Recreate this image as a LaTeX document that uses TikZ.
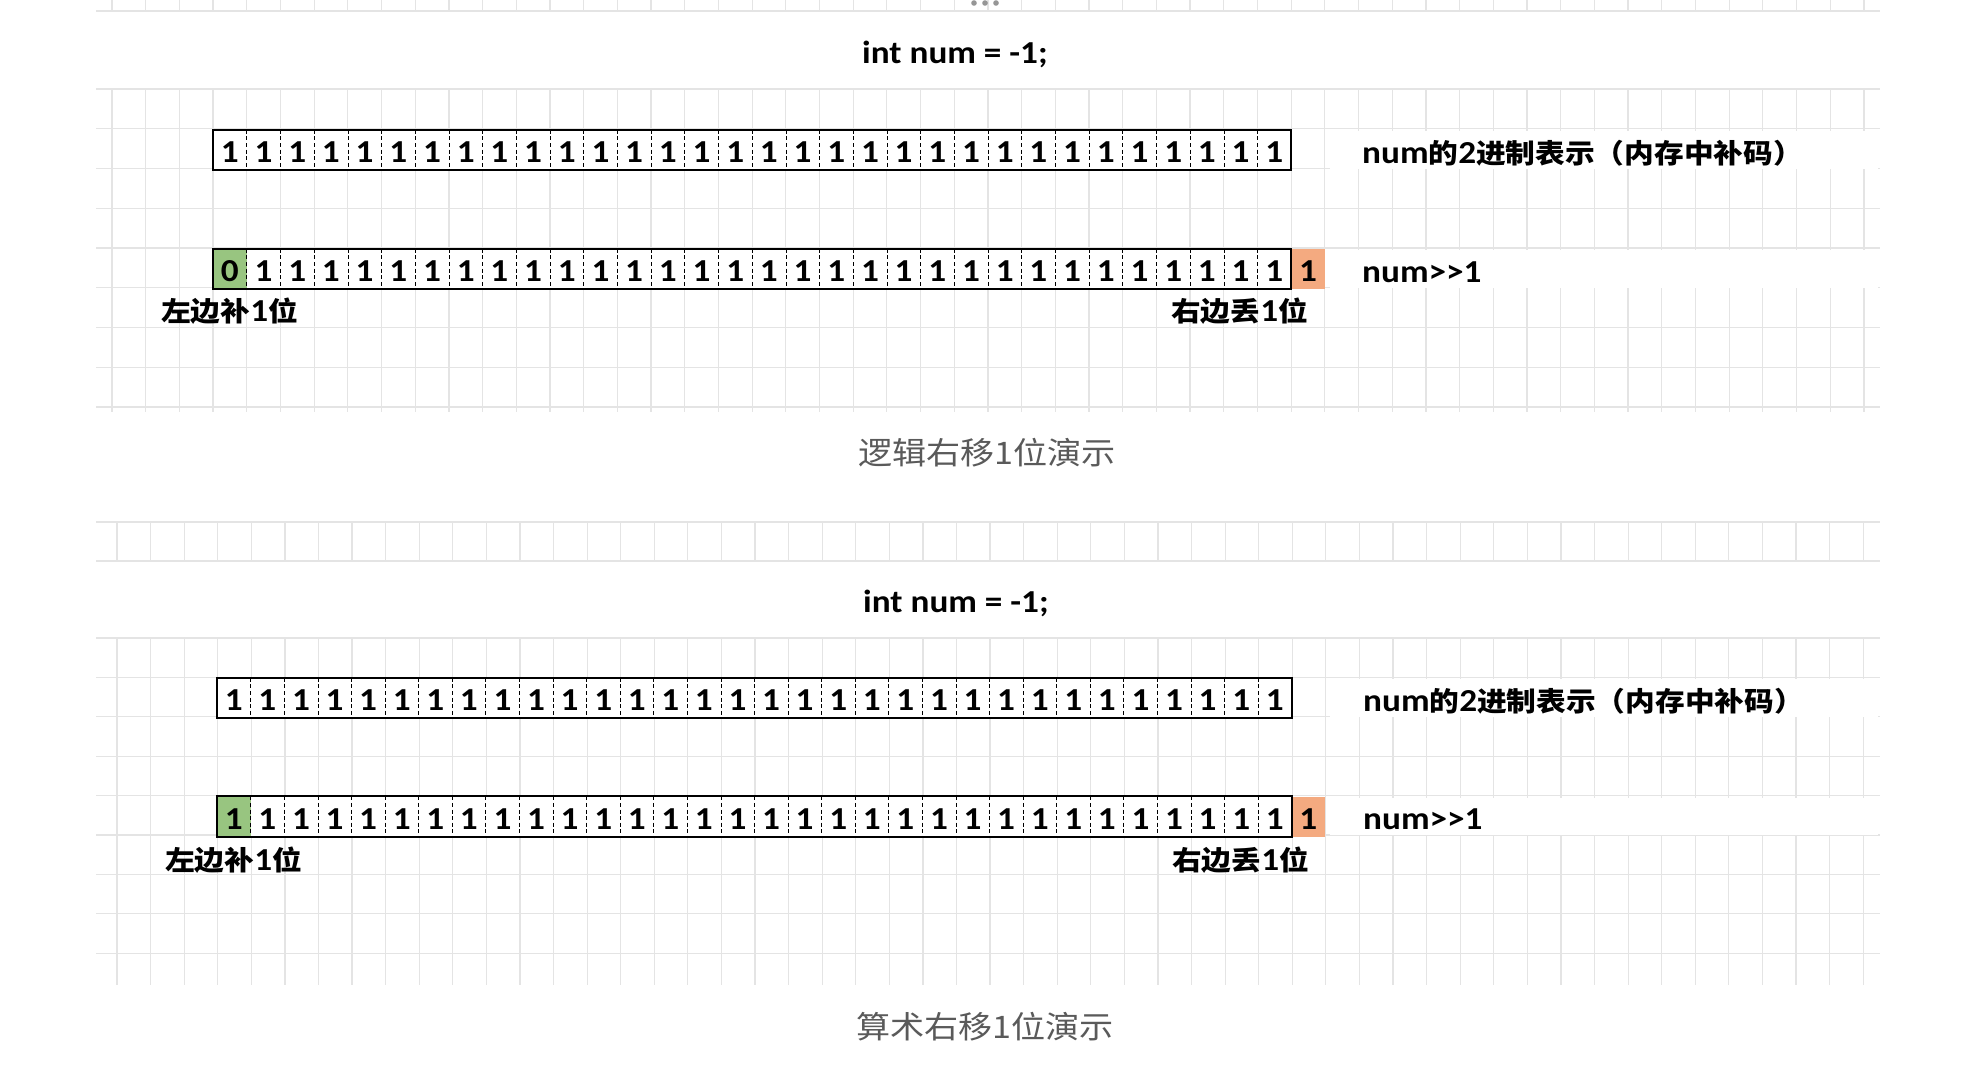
\documentclass[tikz,border=0pt]{standalone}
\usepackage{fontspec}
\usepackage{graphicx}
\setmainfont{Carlito}
\newfontfamily\cjk{Noto Sans CJK SC}
\definecolor{gridc}{RGB}{228,228,228}
\definecolor{greenc}{RGB}{152,197,128}
\definecolor{orangec}{RGB}{244,170,128}
\definecolor{titlec}{RGB}{90,90,90}
\definecolor{dotc}{RGB}{150,150,150}
\newcommand\hs[1]{\scalebox{1.1}[1]{#1}}
\newcommand\latb[1]{{\fontsize{32}{36}\selectfont\bfseries #1}}
\newcommand\zhb[1]{{\fontsize{27}{30}\selectfont\cjk\bfseries #1}}
\newcommand\zht[1]{{\fontsize{31}{34}\selectfont\cjk #1}}
\begin{document}
\begin{tikzpicture}[x=1pt,y=-1pt,
  gridline/.style={draw=gridc,line width=1.2pt},
  cell/.style={rectangle,minimum width=33.69pt,minimum height=40pt,inner sep=0pt,
    fill=white,text height=25pt,text depth=0pt,font=\fontsize{32}{36}\selectfont\bfseries},
  cellb/.style={cell,minimum width=33.58pt},
  boxline/.style={draw=black,line width=2pt},
  sepline/.style={draw=black,line width=0.8pt,dash pattern=on 4pt off 2.6pt},
  lab/.style={anchor=base west,inner sep=0pt},
  title/.style={anchor=base,inner sep=0pt,text=titlec}]
\useasboundingbox (0,0) rectangle (1970,1080);
\fill[white] (0,0) rectangle (1970,1080);
% ---------- grid strips and sections ----------
\foreach \k in {0,...,52} {
  \draw[gridline] ({112+33.69*\k},0) -- ({112+33.69*\k},11);
  \draw[gridline] ({112+33.69*\k},89) -- ({112+33.69*\k},412);
  \draw[gridline] ({117+33.58*\k},522) -- ({117+33.58*\k},561);
  \draw[gridline] ({117+33.58*\k},638) -- ({117+33.58*\k},985);
}
\draw[gridline] (96,11) -- (1880,11);
\foreach \j in {0,...,8} {
  \draw[gridline] (96,{89+39.75*\j}) -- (1880,{89+39.75*\j});
  \draw[gridline] (96,{638+39.4*\j}) -- (1880,{638+39.4*\j});
}
\draw[gridline] (96,522) -- (1880,522);
\draw[gridline] (96,561) -- (1880,561);
% white bands behind the row labels
\fill[white] (1330,131) rectangle (1878,169);
\fill[white] (1330,250) rectangle (1878,288);
\fill[white] (1330,679) rectangle (1878,717);
\fill[white] (1330,798) rectangle (1878,835);
% three dots at the top
\fill[dotc] (974,3) circle (2.8);
\fill[dotc] (985,3) circle (2.8);
\fill[dotc] (996,3) circle (2.8);
% ---------- top part: logical shift ----------
\node[anchor=base,inner sep=0pt] (code1) at (955,63) {\hs{\latb{int num = -1;}}};
\foreach \i in {1,...,32}
  \node[cell] (ta\i) at ({213+33.69*(\i-0.5)},150) {\hs{1}};
\foreach \i in {1,...,31}
  \draw[sepline] (ta\i.north east) -- (ta\i.south east);
\draw[boxline] (ta1.north west) rectangle (ta32.south east);
\node[lab] (la1) at (1362,163) {\hs{\latb{num}\zhb{的}\latb{2}\zhb{进制表示（内存中补码）}}};
\node[cell,fill=greenc] (tb1) at ({213+33.69*0.5},269) {\hs{0}};
\foreach \i in {2,...,32}
  \node[cell] (tb\i) at ({213+33.69*(\i-0.5)},269) {\hs{1}};
\node[cell,fill=orangec] (tbo) at ({213+33.69*32.5},269) {\hs{1}};
\foreach \i in {1,...,31}
  \draw[sepline] (tb\i.north east) -- (tb\i.south east);
\draw[boxline] (tb1.north west) rectangle (tb32.south east);
\node[lab] (lb1) at (1362,282) {\hs{\latb{num>{}>1}}};
\node[lab] (lf1) at (161,321) {\hs{\zhb{左边补}\latb{1}\zhb{位}}};
\node[lab] (lr1) at (1171,321) {\hs{\zhb{右边丢}\latb{1}\zhb{位}}};
\node[title] (ti1) at (987,464) {\hs{\zht{逻辑右移1位演示}}};
% ---------- bottom part: arithmetic shift ----------
\node[anchor=base,inner sep=0pt] (code2) at (956,612) {\hs{\latb{int num = -1;}}};
\foreach \i in {1,...,32}
  \node[cellb] (ba\i) at ({217+33.58*(\i-0.5)},698) {\hs{1}};
\foreach \i in {1,...,31}
  \draw[sepline] (ba\i.north east) -- (ba\i.south east);
\draw[boxline] (ba1.north west) rectangle (ba32.south east);
\node[lab] (la2) at (1363,711) {\hs{\latb{num}\zhb{的}\latb{2}\zhb{进制表示（内存中补码）}}};
\node[cellb,fill=greenc] (bb1) at ({217+33.58*0.5},816.5) {\hs{1}};
\foreach \i in {2,...,32}
  \node[cellb] (bb\i) at ({217+33.58*(\i-0.5)},816.5) {\hs{1}};
\node[cellb,fill=orangec] (bbo) at ({217+33.58*32.5},816.5) {\hs{1}};
\foreach \i in {1,...,31}
  \draw[sepline] (bb\i.north east) -- (bb\i.south east);
\draw[boxline] (bb1.north west) rectangle (bb32.south east);
\node[lab] (lb2) at (1363,829) {\hs{\latb{num>{}>1}}};
\node[lab] (lf2) at (165,870) {\hs{\zhb{左边补}\latb{1}\zhb{位}}};
\node[lab] (lr2) at (1172,870) {\hs{\zhb{右边丢}\latb{1}\zhb{位}}};
\node[title] (ti2) at (985,1038) {\hs{\zht{算术右移1位演示}}};
\end{tikzpicture}
\end{document}
